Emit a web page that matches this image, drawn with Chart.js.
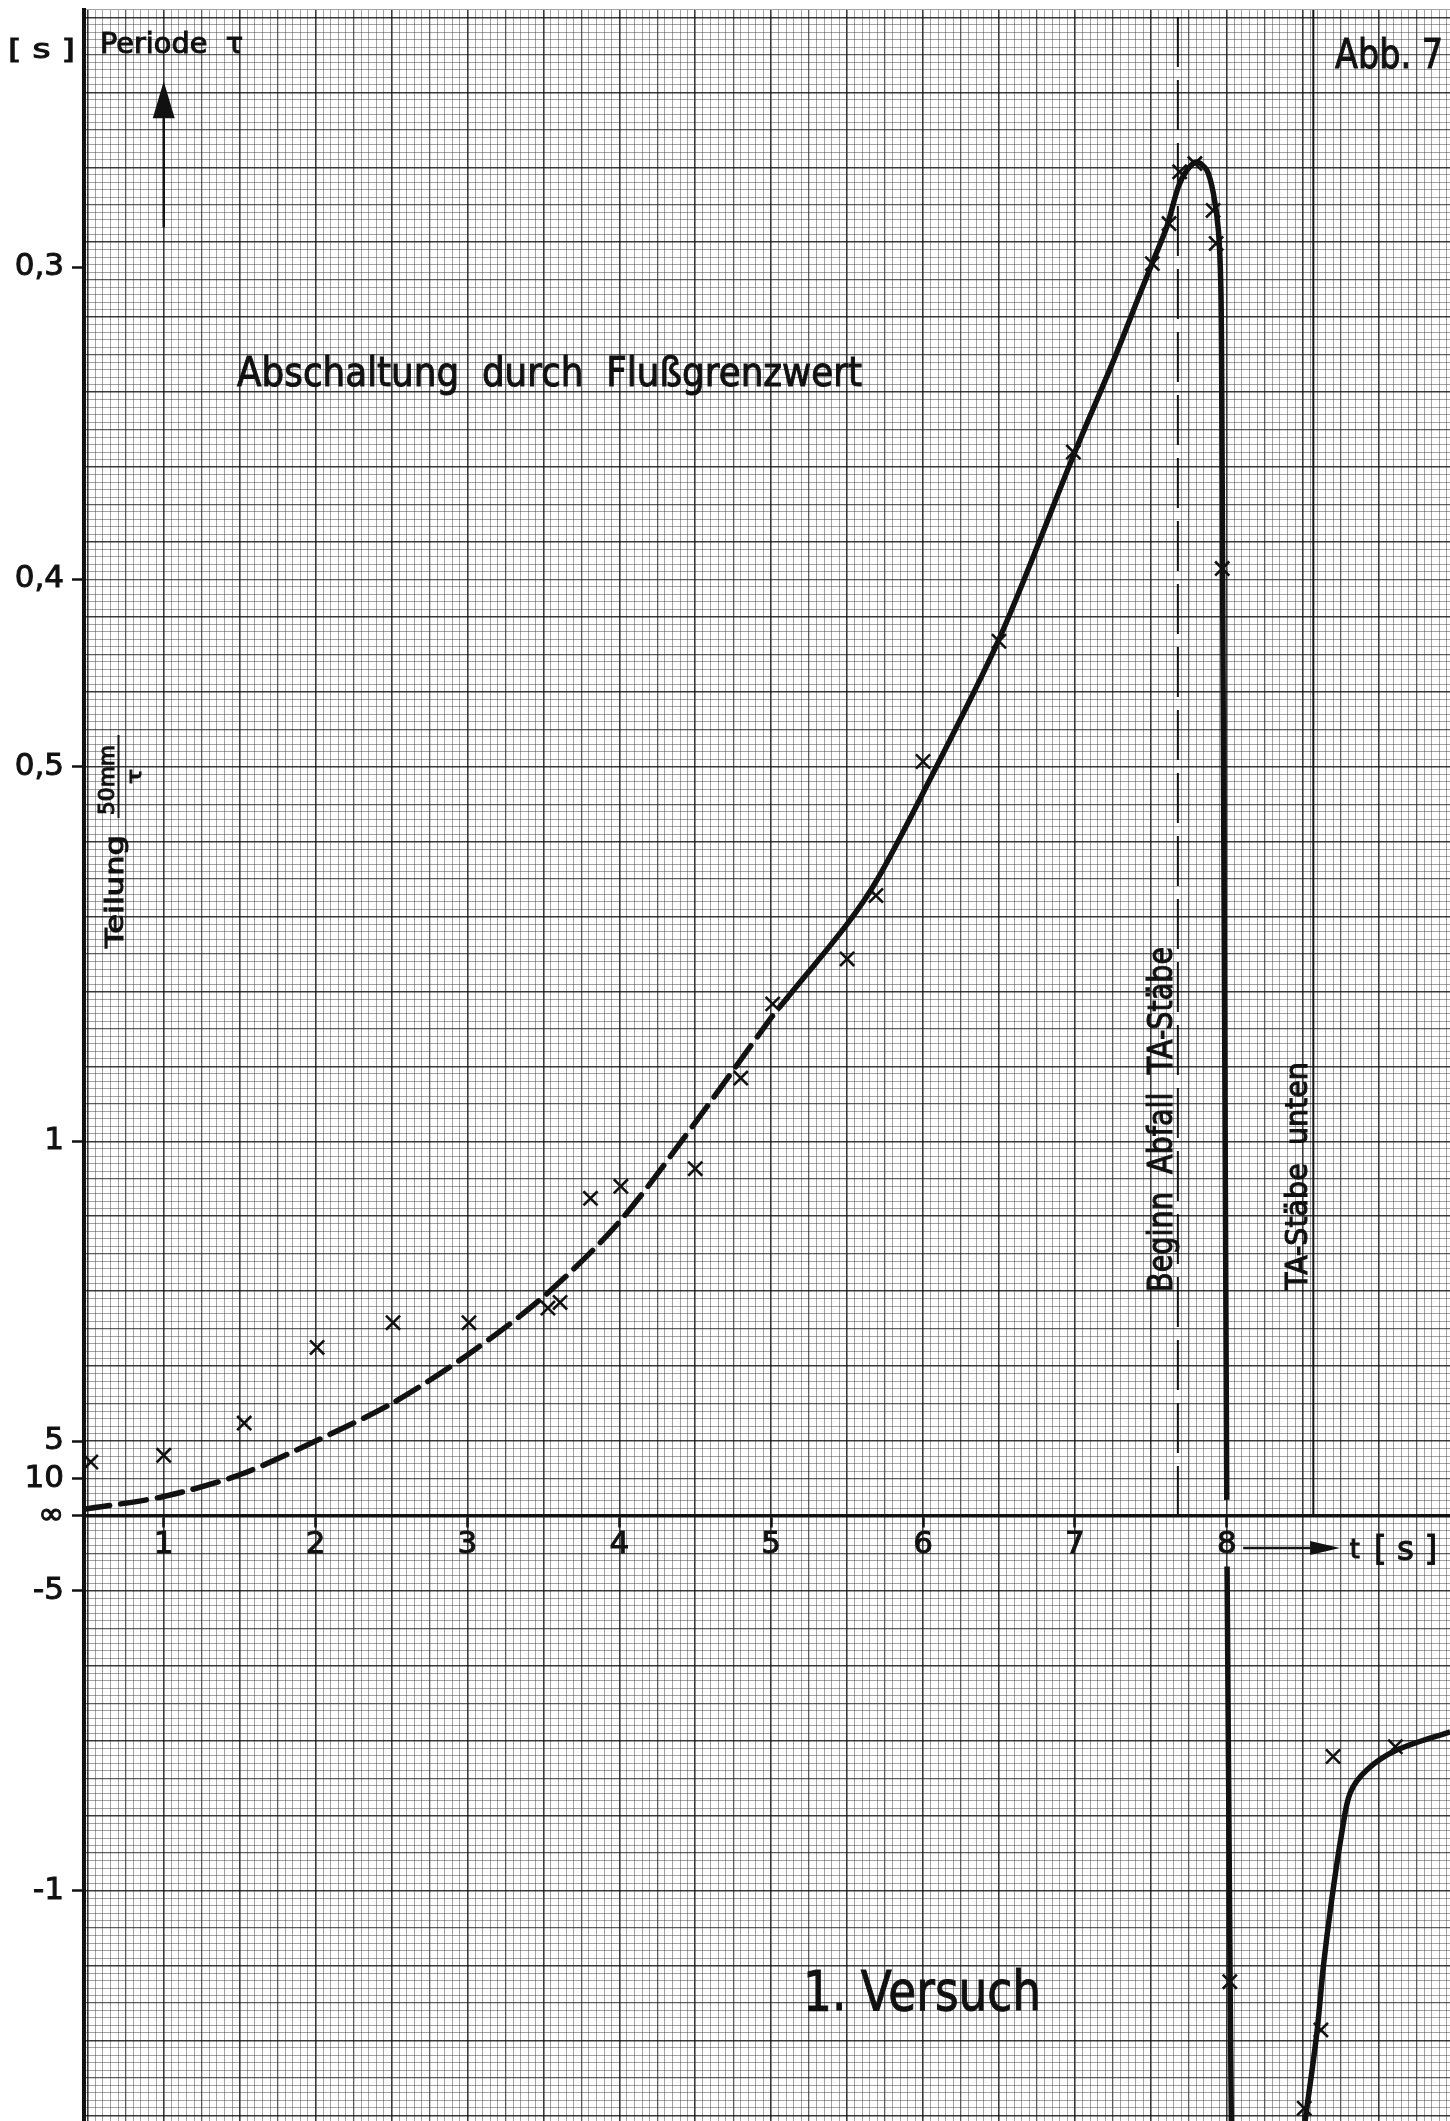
<!DOCTYPE html>
<html lang="de">
<head>
<meta charset="utf-8">
<title>Abb. 7 – Periode τ, 1. Versuch</title>
<script src="https://cdn.jsdelivr.net/npm/chart.js@4.4.1/dist/chart.umd.min.js"></script>
<style>
  html, body { margin: 0; padding: 0; background: #ffffff; }
  canvas { display: block; }
</style>
</head>
<body>
<canvas id="periodeChart" width="1450" height="2121"></canvas>
<script>
// Abb. 7 – Periode τ über der Zeit t (1. Versuch)
// Senkrechte Teilung 50mm/τ, also linear in 1/τ. Alle y-Werte unten sind 1/τ [1/s].

// Achsenbeschriftung
const zeitTicks = [1, 2, 3, 4, 5, 6, 7, 8];
const periodeTicks = [0.3, 0.4, 0.5, 1, 5, 10, Infinity, -5, -1];
const periodeTickLabels = ['0,3', '0,4', '0,5', '1', '5', '10', '∞', '-5', '-1'];

// Messpunkte (×)
const messZeit = [0.52, 1.00, 1.53, 2.01, 2.51, 3.01, 3.53, 3.61, 3.81, 4.01, 4.50, 4.80, 5.01, 5.50, 5.69, 6.00, 6.50, 6.99, 7.51, 7.62, 7.69, 7.79, 7.91, 7.93, 7.97, 8.02, 8.51, 8.62, 8.70, 9.11];
const messKehrwert = [0.144, 0.162, 0.248, 0.450, 0.516, 0.516, 0.555, 0.570, 0.848, 0.880, 0.927, 1.169, 1.367, 1.487, 1.656, 2.014, 2.335, 2.840, 3.343, 3.450, 3.588, 3.610, 3.485, 3.397, 2.529, -1.243, -1.581, -1.372, -0.642, -0.616];

// gestrichelte Ausgleichskurve (Anfangsbereich)
const strichZeit = [0.475, 1.0, 1.5, 2.0, 2.5, 3.0, 3.5, 4.0, 4.5, 5.0, 5.1];
const strichKehrwert = [0.018, 0.052, 0.11, 0.20, 0.30, 0.43, 0.585, 0.785, 1.05, 1.33, 1.38];

// durchgezogene Kurve bis zum Abfall (Lücke an der Beschriftung "8")
const kurveZeit = [5.1, 5.5, 5.7, 6.0, 6.5, 7.0, 7.25, 7.429, 7.517, 7.605, 7.681, 7.737, 7.803, 7.869, 7.912, 7.945, 7.961, 7.967, 7.974, 8.0, 8.001, 8.002, 8.022, 8.03];
const kurveKehrwert = [1.38, 1.58, 1.70, 1.93, 2.34, 2.84, 3.08, 3.263, 3.352, 3.441, 3.548, 3.592, 3.614, 3.592, 3.530, 3.432, 3.281, 3.014, 2.391, 0.043, null, -0.135, -1.243, -1.615];

// negativer Ast nach "TA-Stäbe unten"
const astZeit = [8.516, 8.593, 8.636, 8.691, 8.757, 8.812, 8.922, 9.120, 9.471];
const astKehrwert = [-1.615, -1.381, -1.203, -1.025, -0.847, -0.740, -0.678, -0.625, -0.576];

// senkrechte Markierungen
const beginnAbfallZeit = 7.678;
const staebeUntenZeit = 8.570;

// Achsenbereich
const tMin = 0.475, tMax = 9.47;
const vMin = -1.615, vMax = 4.02;

const schrift = '"DejaVu Sans", "Liberation Sans", sans-serif';

function punkte(xs, ys) {
    return xs.map((t, i) => ({ x: t, y: ys[i] }));
}

// Polster der Achsen abschalten, damit der Zeichenbereich das ganze Blatt nutzt
function ohnePolster(scale) {
    scale.paddingTop = 0;
    scale.paddingBottom = 0;
    scale.paddingLeft = 0;
    scale.paddingRight = 0;
}

// Millimeterpapier: 1mm fein, 5mm und 10mm kräftiger
function papierAchse(achse, position, min, max, schritt) {
    return {
        type: 'linear',
        axis: achse,
        position: position,
        min: min,
        max: max,
        ticks: { display: false },
        border: { display: false },
        afterBuildTicks: function(scale) {
            const liste = [];
            for (let k = Math.ceil(min / schritt - 1e-9); k * schritt <= max + 1e-9; k++) {
                liste.push({ value: k * schritt });
            }
            scale.ticks = liste;
        },
        afterFit: function(scale) {
            if (achse === 'x') scale.height = 0; else scale.width = 0;
            ohnePolster(scale);
        },
        grid: {
            drawTicks: false,
            color: function(c) {
                const k = Math.round(c.tick.value / schritt);
                if (k % 10 === 0) return 'rgba(15,15,15,0.82)';
                if (k % 5 === 0) return 'rgba(25,25,25,0.70)';
                return 'rgba(50,50,50,0.45)';
            },
            lineWidth: function(c) {
                const k = Math.round(c.tick.value / schritt);
                if (k % 10 === 0) return 1.6;
                if (k % 5 === 0) return 1.3;
                return 1;
            }
        }
    };
}

// Text mit Versalhöhe "hoehe" und Länge "breite" (schmal gestellte Normschrift)
function schreibe(ctx, text, x, y, breite, hoehe, winkel) {
    const groesse = hoehe / 0.73;
    ctx.font = groesse.toFixed(1) + 'px ' + schrift;
    const w = ctx.measureText(text).width;
    ctx.save();
    ctx.translate(x, y);
    if (winkel) ctx.rotate(winkel);
    ctx.scale(breite / w, 1);
    ctx.fillText(text, 0, 0);
    ctx.lineWidth = 1.1;
    ctx.strokeText(text, 0, 0);
    ctx.restore();
}

function pfeil(ctx, x1, y1, x2, y2, kopf, halb) {
    const a = Math.atan2(y2 - y1, x2 - x1);
    const bx = x2 - kopf * Math.cos(a), by = y2 - kopf * Math.sin(a);
    ctx.beginPath();
    ctx.moveTo(x1, y1);
    ctx.lineTo(bx, by);
    ctx.stroke();
    ctx.beginPath();
    ctx.moveTo(x2, y2);
    ctx.lineTo(bx + halb * Math.sin(a), by - halb * Math.cos(a));
    ctx.lineTo(bx - halb * Math.sin(a), by + halb * Math.cos(a));
    ctx.closePath();
    ctx.fill();
}

// Beschriftungen auf dem Blatt
const beschriftungPlugin = {
    id: 'beschriftung',
    afterDatasetsDraw(chart) {
        const ctx = chart.ctx;
        const px = t => chart.scales.x.getPixelForValue(t);
        const py = v => chart.scales.y.getPixelForValue(v);
        const senkrecht = -Math.PI / 2;
        ctx.save();
        ctx.fillStyle = '#111';
        ctx.strokeStyle = '#111';
        ctx.textAlign = 'left';
        ctx.textBaseline = 'alphabetic';

        schreibe(ctx, '[ s ]', 8, 58, 67, 20);
        schreibe(ctx, 'Periode  τ', 100, 53, 143, 21);
        schreibe(ctx, 'Abb. 7', 1335, 68, 108, 30);
        schreibe(ctx, 'Abschaltung  durch  Flußgrenzwert', px(1.483), py(3.017), 625, 30);
        schreibe(ctx, '1. Versuch', px(5.21), py(-1.319), 238, 40);
        schreibe(ctx, 'Beginn  Abfall  TA-Stäbe', px(7.64), py(0.598), 345, 24, senkrecht);
        schreibe(ctx, 'TA-Stäbe  unten', px(8.529), py(0.603), 228, 22, senkrecht);

        // Teilung 50mm/τ
        schreibe(ctx, 'Teilung', 123, 948, 113, 18, senkrecht);
        schreibe(ctx, '50mm', 114, 815, 70, 15, senkrecht);
        schreibe(ctx, 'τ', 141, 784, 15, 14, senkrecht);
        ctx.lineWidth = 2;
        ctx.beginPath();
        ctx.moveTo(118.5, 818);
        ctx.lineTo(118.5, 735);
        ctx.stroke();

        // Pfeil der Periodenachse
        ctx.lineWidth = 2.5;
        pfeil(ctx, px(1.0), py(3.44), px(1.0), py(3.83), 37, 11);

        // Pfeil der Zeitachse
        const yt = py(0) + 32;
        pfeil(ctx, px(8.108), yt, px(8.746), yt, 30, 7);
        schreibe(ctx, 't', px(8.81), py(0) + 42, 10, 20);
        schreibe(ctx, '[ s ]', px(8.97), py(0) + 44, 63, 24);
        ctx.restore();
    }
};

const ctx = document.getElementById('periodeChart').getContext('2d');

new Chart(ctx, {
    type: 'line',
    data: {
        datasets: [{
            label: 'Beginn Abfall TA-Stäbe',
            data: [{ x: beginnAbfallZeit, y: 0 }, { x: beginnAbfallZeit, y: vMax }],
            borderColor: '#111',
            borderWidth: 2,
            borderDash: [50, 13],
            pointRadius: 0,
            xAxisID: 'x', yAxisID: 'y'
        }, {
            label: 'TA-Stäbe unten',
            data: [{ x: staebeUntenZeit, y: 0 }, { x: staebeUntenZeit, y: vMax }],
            borderColor: '#111',
            borderWidth: 2,
            pointRadius: 0,
            xAxisID: 'x', yAxisID: 'y'
        }, {
            label: 'Ausgleichskurve (gestrichelt)',
            data: punkte(strichZeit, strichKehrwert),
            borderColor: '#111',
            borderWidth: 5.5,
            borderDash: [26, 11],
            borderCapStyle: 'round',
            tension: 0.3,
            pointRadius: 0,
            xAxisID: 'x', yAxisID: 'y'
        }, {
            label: 'Ausgleichskurve',
            data: punkte(kurveZeit, kurveKehrwert),
            borderColor: '#111',
            borderWidth: 5.5,
            tension: 0.3,
            spanGaps: false,
            pointRadius: 0,
            xAxisID: 'x', yAxisID: 'y'
        }, {
            label: 'negativer Ast',
            data: punkte(astZeit, astKehrwert),
            borderColor: '#111',
            borderWidth: 5.5,
            tension: 0.3,
            pointRadius: 0,
            xAxisID: 'x', yAxisID: 'y'
        }, {
            label: 'Messpunkte',
            data: punkte(messZeit, messKehrwert),
            showLine: false,
            pointStyle: 'crossRot',
            pointRadius: 10,
            pointBorderWidth: 2.6,
            pointBorderColor: '#111',
            xAxisID: 'x', yAxisID: 'y'
        }]
    },
    options: {
        responsive: false,
        animation: false,
        devicePixelRatio: 1,
        events: [],
        layout: { autoPadding: false, padding: { top: 10, right: 0, bottom: 0, left: 0 } },
        plugins: {
            legend: { display: false },
            tooltip: { enabled: false }
        },
        scales: {
            gx: papierAchse('x', 'top', tMin, tMax, 0.05),
            gy: papierAchse('y', 'right', vMin, vMax, 0.02),
            x: {
                type: 'linear',
                position: { y: 0 },
                min: tMin,
                max: tMax,
                afterBuildTicks: s => { s.ticks = zeitTicks.map(v => ({ value: v })); },
                afterFit: ohnePolster,
                grid: { drawOnChartArea: false, drawTicks: true, tickLength: 10, tickWidth: 2.5, tickColor: '#111' },
                border: { display: true, color: '#111', width: 3.5 },
                ticks: {
                    color: '#111',
                    textStrokeColor: '#111',
                    textStrokeWidth: 1,
                    font: { family: schrift, size: 31 },
                    padding: 0,
                    autoSkip: false,
                    maxRotation: 0,
                    callback: v => String(v)
                }
            },
            y: {
                type: 'linear',
                position: 'left',
                min: vMin,
                max: vMax,
                afterBuildTicks: s => { s.ticks = periodeTicks.map(tau => ({ value: 1 / tau })); },
                afterFit: s => { s.width = 84; ohnePolster(s); },
                grid: { drawOnChartArea: false, drawTicks: true, tickLength: 12, tickWidth: 2.5, tickColor: '#111' },
                border: { display: true, color: '#111', width: 4 },
                ticks: {
                    color: '#111',
                    textStrokeColor: '#111',
                    textStrokeWidth: 1,
                    font: { family: schrift, size: 31 },
                    padding: 8,
                    autoSkip: false,
                    callback: function(val) {
                        const i = periodeTicks.findIndex(tau => Math.abs(1 / tau - val) < 1e-9);
                        return i >= 0 ? periodeTickLabels[i] : '';
                    }
                }
            }
        }
    },
    plugins: [beschriftungPlugin]
});
</script>
</body>
</html>
